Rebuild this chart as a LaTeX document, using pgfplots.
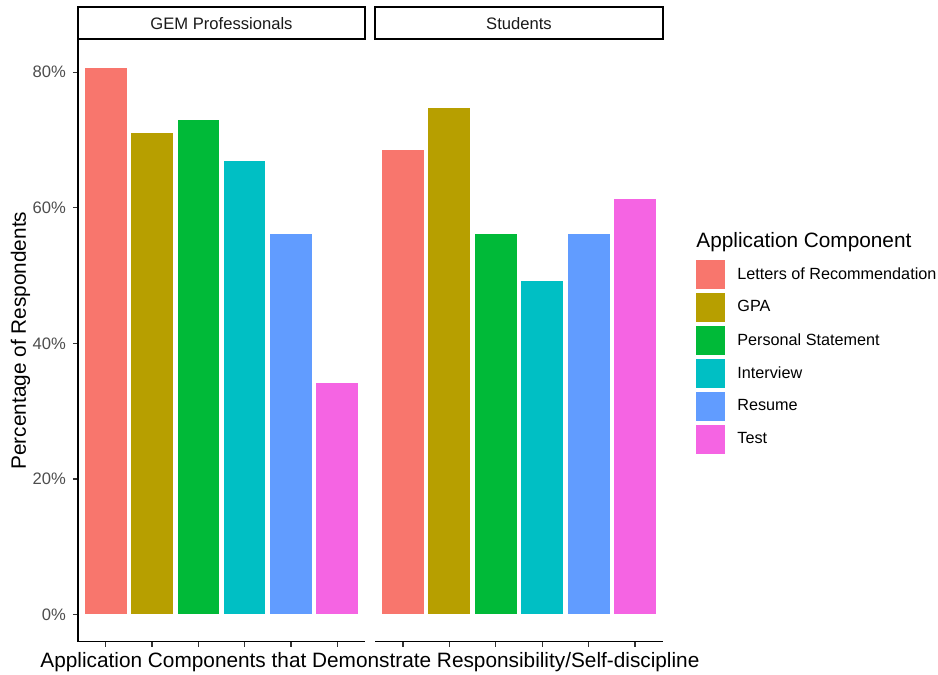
\documentclass[border=0pt]{standalone}
\usepackage{fontspec}
\setmainfont{Liberation Sans}
\usepackage{pgfplots}
\pgfplotsset{compat=1.18}
\definecolor{cA}{HTML}{F8766D}
\definecolor{cB}{HTML}{B79F00}
\definecolor{cC}{HTML}{00BA38}
\definecolor{cD}{HTML}{00BFC4}
\definecolor{cE}{HTML}{619CFF}
\definecolor{cF}{HTML}{F564E3}
\definecolor{g30}{HTML}{4D4D4D}
\definecolor{g20}{HTML}{333333}
\definecolor{g10}{HTML}{1A1A1A}
\pgfplotsset{
  panel/.style={
    scale only axis,
    anchor=south west,
    width=143.5pt, height=301.1pt,
    xmin=0.4, xmax=6.6,
    ymin=-4.04, ymax=84.84,
    clip=false,
    ybar, bar width=0.9,
    xtick={1,2,3,4,5,6}, xticklabels={},
    tick align=outside,
    major tick length=2.5pt,
    every tick/.style={g20, line width=0.7pt},
    axis line style={black, line width=0.7pt},
    tick label style={font=\fontsize{8.3}{9}\selectfont, text=g30},
  },
  barA/.style={fill=cA, draw=none, bar shift=0pt},
  barB/.style={fill=cB, draw=none, bar shift=0pt},
  barC/.style={fill=cC, draw=none, bar shift=0pt},
  barD/.style={fill=cD, draw=none, bar shift=0pt},
  barE/.style={fill=cE, draw=none, bar shift=0pt},
  barF/.style={fill=cF, draw=none, bar shift=0pt},
}
\begin{document}
\begin{tikzpicture}
\useasboundingbox (0,0) rectangle (469pt,337.5pt);
% Left panel
\begin{axis}[panel,
  at={(39pt,16.65pt)},
  axis x line*=bottom, axis y line*=left,
  ytick={0,20,40,60,80},
  yticklabels={0\%,20\%,40\%,60\%,80\%},
  ylabel={Percentage of Respondents},
  ylabel style={at={(axis description cs:-0.2,0.5)}, anchor=center, font=\fontsize{10.4}{12}\selectfont},
  xlabel={Application Components that Demonstrate Responsibility/Self-discipline},
  xlabel style={at={(axis description cs:1.0174,-0.0337)}, anchor=center, font=\fontsize{10.4}{12}\selectfont},
]
\addplot[barA] coordinates {(1,80.7)};
\addplot[barB] coordinates {(2,71.1)};
\addplot[barC] coordinates {(3,73.0)};
\addplot[barD] coordinates {(4,66.9)};
\addplot[barE] coordinates {(5,56.1)};
\addplot[barF] coordinates {(6,34.1)};
\draw[black, line width=1pt, fill=white] (rel axis cs:0,1) rectangle ([yshift=16pt]rel axis cs:1,1);
\node[text=g10, font=\fontsize{8.3}{9}\selectfont] at ([yshift=8pt]rel axis cs:0.5,1) {GEM Professionals};
\end{axis}
% Right panel
\begin{axis}[panel,
  at={(187.5pt,16.65pt)},
  width=144pt,
  axis x line*=bottom, axis y line=none,
  legend style={at={(axis description cs:1.1146,0.634)}, anchor=north west, draw=none, fill=none,
    font=\fontsize{8.1}{9}\selectfont, row sep=2.1pt, inner sep=0pt,
    /tikz/every odd column/.append style={column sep=4pt},
    /tikz/every even column/.append style={column sep=0pt}},
  legend cell align=left,
  legend image code/.code={\fill[#1] (0pt,-7.2pt) rectangle (14.5pt,7.2pt);},
]
\addplot[barA] coordinates {(1,68.5)};
\addlegendentry{Letters of Recommendation}
\addplot[barB] coordinates {(2,74.8)};
\addlegendentry{GPA}
\addplot[barC] coordinates {(3,56.1)};
\addlegendentry{Personal Statement}
\addplot[barD] coordinates {(4,49.2)};
\addlegendentry{Interview}
\addplot[barE] coordinates {(5,56.1)};
\addlegendentry{Resume}
\addplot[barF] coordinates {(6,61.3)};
\addlegendentry{Test}
\draw[black, line width=1pt, fill=white] (rel axis cs:0,1) rectangle ([yshift=16pt]rel axis cs:1,1);
\node[text=g10, font=\fontsize{8.3}{9}\selectfont] at ([yshift=8pt]rel axis cs:0.5,1) {Students};
\node[anchor=base west, font=\fontsize{10.4}{12}\selectfont, inner sep=0pt] at (axis description cs:1.1146,0.654) {Application Component};
\end{axis}
\end{tikzpicture}
\end{document}
